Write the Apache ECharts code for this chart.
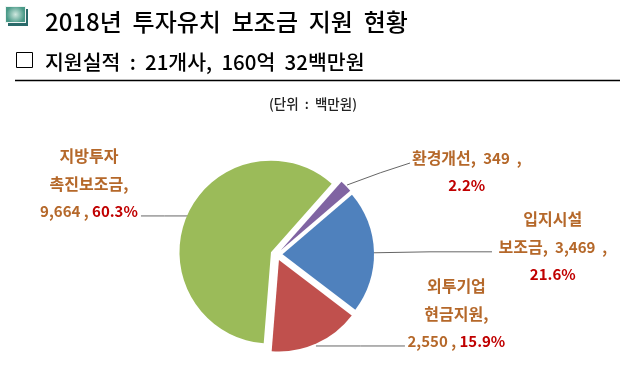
<!DOCTYPE html>
<html>
<head>
<meta charset="utf-8">
<style>
  html, body { margin: 0; padding: 0; background: #fff; }
  #chart { width: 640px; height: 374px; }
</style>
<script src="https://cdn.jsdelivr.net/npm/echarts@6/dist/echarts.min.js"></script>
</head>
<body>
<div id="chart"></div>
<script>
const categories = ['입지시설 보조금', '외투기업 현금지원', '지방투자 촉진보조금', '환경개선']
const amounts = [3469, 2550, 9664, 349]
const shares = ['21.6%', '15.9%', '60.3%', '2.2%']
const colors = ['#4f81bd', '#c0504d', '#9bbb59', '#8064a2']

// label text per slice, same order as categories
const labelText = [
  '{b|입지시설}\n{b|보조금,  }{n|3,469  ,}\n{r|21.6%}',
  '{b|외투기업}\n{b|현금지원,}\n{n|2,550 , }{r|15.9%}',
  '{b|지방투자}\n{b|촉진보조금,}\n{n|9,664 , }{r|60.3%}',
  '{b|환경개선,  }{n|349  ,}\n{r|2.2%}'
]
// moves from the default outside position
const labelShift = [[134, 0], [99, -30], [-49, -27], [75, -4]]
// leader points are local to the exploded slice, so they sit one selectedOffset back
const leaders = [
  [[366, 253], [424, 252], [486, 252]],
  [[313.5, 340.5], [358, 340.5], [402.5, 340.5]],
  [[194.5, 218.3], [170, 218.3], [146.5, 218.3]],
  [[342.8, 189.2], [376, 177], [405.8, 167.2]]
]

const chart = echarts.init(document.getElementById('chart'))

const labelFont = { fontWeight: 700, lineHeight: 27.5, fontFamily: 'Noto Sans CJK KR' }

chart.setOption({
  backgroundColor: '#fff',
  animation: false,
  graphic: [
    {
      type: 'rect',
      shape: { x: 8, y: 9, width: 20, height: 17 },
      style: { fill: '#2a6a6a' }
    },
    {
      type: 'rect',
      shape: { x: 5, y: 6, width: 21, height: 17 },
      style: { fill: '#eef5f3' }
    },
    {
      type: 'rect',
      shape: { x: 6, y: 7, width: 19, height: 15 },
      style: {
        fill: new echarts.graphic.RadialGradient(0.5, 0.5, 0.6, [
          { offset: 0, color: '#cfe8df' },
          { offset: 1, color: '#4a9a88' }
        ])
      }
    },
    {
      type: 'text',
      x: 45,
      y: 22,
      style: {
        text: '2018년  투자유치  보조금  지원  현황',
        fill: '#000',
        font: '500 24px "Noto Sans CJK KR"',
        verticalAlign: 'middle'
      }
    },
    {
      type: 'rect',
      shape: { x: 16.5, y: 52.5, width: 16, height: 15 },
      style: { fill: '#fff', stroke: '#000', lineWidth: 1 }
    },
    {
      type: 'text',
      x: 45,
      y: 62,
      style: {
        text: '지원실적  :  21개사,  160억  32백만원',
        fill: '#000',
        font: '500 20.5px "Noto Sans CJK KR"',
        verticalAlign: 'middle'
      }
    },
    {
      type: 'line',
      shape: { x1: 15, y1: 80.5, x2: 620, y2: 80.5 },
      style: { stroke: '#000', lineWidth: 1.5 }
    },
    {
      type: 'text',
      x: 313,
      y: 104,
      style: {
        text: '(단위  :  백만원)',
        fill: '#222',
        font: '500 13.5px "Noto Sans CJK KR"',
        align: 'center',
        verticalAlign: 'middle'
      }
    }
  ],
  series: [
    {
      type: 'pie',
      center: [276.5, 254.5],
      radius: [0, 91.5],
      startAngle: 40.6,
      clockwise: true,
      selectedMode: 'multiple',
      selectedOffset: 6,
      silent: true,
      itemStyle: { borderWidth: 0 },
      data: categories.map((name, i) => ({
        name,
        value: amounts[i],
        selected: true,
        itemStyle: { color: colors[i] }
      })),
      label: {
        show: true,
        position: 'outside',
        formatter: p => labelText[p.dataIndex],
        rich: {
          b: { color: '#b5682a', fontSize: 16, ...labelFont },
          n: { color: '#b5682a', fontSize: 15, ...labelFont },
          r: { color: '#c00000', fontSize: 15, ...labelFont }
        }
      },
      labelLine: {
        show: true,
        lineStyle: { color: '#666', width: 1 }
      },
      labelLayout: p => ({
        align: 'center',
        verticalAlign: 'middle',
        dx: labelShift[p.dataIndex][0],
        dy: labelShift[p.dataIndex][1],
        labelLinePoints: leaders[p.dataIndex]
      })
    }
  ]
})
</script>
</body>
</html>
